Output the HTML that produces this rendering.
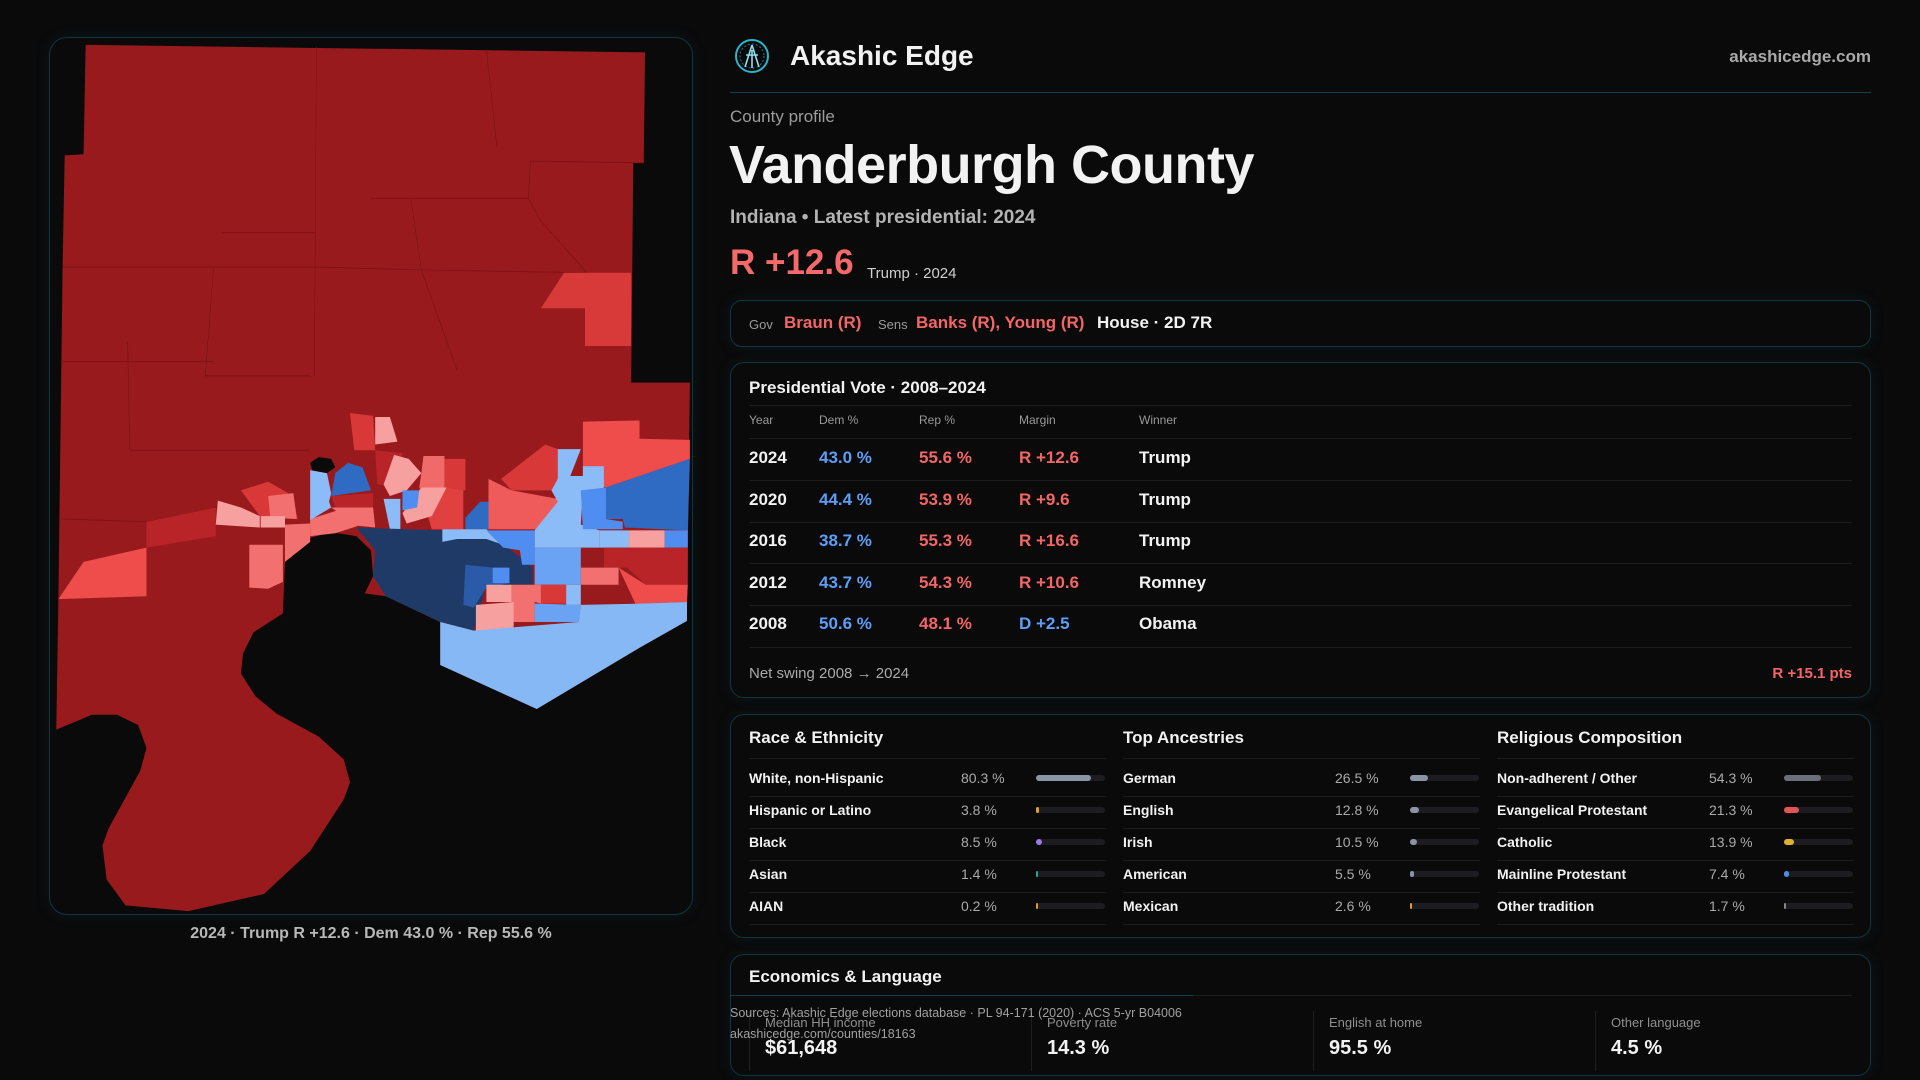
<!DOCTYPE html>
<html><head><meta charset="utf-8">
<style>
*{margin:0;padding:0;box-sizing:border-box}
body{width:1920px;height:1080px;background:#0a0a0b;font-family:"Liberation Sans",sans-serif;color:#f2f2f2;position:relative;overflow:hidden}
.a{position:absolute;white-space:nowrap}
.box{position:absolute;border:1px solid #0f3640;border-radius:14px;background:#0a0a0b;box-shadow:0 0 14px rgba(20,80,95,0.18)}
.red{color:#f46666}.blue{color:#5d9ef7}
.hl{position:absolute;height:1px;background:#1c1c1f}
.lbl{font-size:14px;font-weight:bold;color:#f2f2f2}
.val{font-size:14px;color:#aaa}
.trk{position:absolute;height:6px;border-radius:3px;background:#1d1d21}
.fil{position:absolute;left:0;top:0;height:6px;border-radius:3px}
</style></head><body>

<div class="box" style="left:49px;top:37px;width:644px;height:878px;border-radius:18px">
<svg width="642" height="876" viewBox="20 10 1530 1530" preserveAspectRatio="none" style="position:absolute;left:0;top:0">
<polygon fill="#981a1d" points="105,22 1438,35 1435,228 1410,228 1405,612 1545,612 1538,1028 1425,1075 1180,1182 950,1105 950,1030 820,985 770,980 790,950 785,905 750,880 690,873 630,885 580,925 575,1015 505,1048 480,1085 475,1120 510,1160 560,1190 660,1230 720,1270 735,1310 720,1340 640,1430 530,1505 350,1535 200,1525 155,1480 145,1420 160,1390 235,1290 250,1250 230,1210 180,1192 120,1192 35,1218 40,990 50,410 55,215 100,213"/>
<g fill="none" stroke="#7a1216" stroke-width="1.5">
<path d="M655,25 L650,600 M50,410 L650,410 M430,350 L650,350 M650,410 L900,415 L1300,420 M785,290 L1160,290 L1165,225 L1435,228 M1060,30 L1085,200 M880,290 L905,415 M50,575 L410,575 M205,540 L210,730 L640,730 M410,410 L390,600 L640,600 M905,415 L990,590 M1160,290 L1190,330 L1300,420 M50,850 L250,855 L420,830"/>
</g>
<polygon fill="#d83a3a" points="1245,420 1405,420 1405,548 1295,548 1295,482 1190,482"/>
<polygon fill="#ef4c4c" points="40,990 100,925 250,900 250,985"/>
<polygon fill="#b82428" points="250,855 415,830 415,880 250,900"/>
<polygon fill="#ef4c4c" points="1290,680 1425,678 1425,710 1545,712 1545,745 1345,795 1290,780 1290,728"/>
<polygon fill="#d83838" points="1095,780 1200,720 1230,728 1230,780 1215,800 1120,800"/>
<polygon fill="#ef5a5a" points="1065,780 1120,800 1230,815 1230,868 1065,868"/>
<polygon fill="#d83838" points="960,745 1010,745 1010,800 960,800"/>
<polygon fill="#d83838" points="735,665 790,670 795,730 745,730"/>
<polygon fill="#b82428" points="795,730 860,735 840,790 800,790"/>
<polygon fill="#e04040" points="900,795 960,795 1005,800 1005,868 930,868"/>
<polygon fill="#f06a6a" points="910,740 960,740 960,800 900,795 905,770"/>
<polygon fill="#f7a0a0" points="795,672 830,672 848,715 795,720"/>
<polygon fill="#f7a0a0" points="840,738 875,745 905,770 870,800 830,810 815,790"/>
<polygon fill="#f7a0a0" points="905,795 965,795 930,845 870,858 860,840"/>
<polygon fill="#f7a0a0" points="420,818 475,830 520,845 520,865 415,860"/>
<polygon fill="#d83838" points="475,800 540,785 600,810 610,850 520,845"/>
<polygon fill="#f27070" points="540,810 600,805 608,850 545,848"/>
<polygon fill="#f7a0a0" points="522,845 580,845 580,865 522,865"/>
<polygon fill="#f27070" points="580,860 640,858 640,890 580,925"/>
<polygon fill="#f27070" points="640,850 705,835 755,862 700,875 640,880"/>
<polygon fill="#f27070" points="690,830 790,830 795,865 755,862"/>
<polygon fill="#f27070" points="495,895 575,895 575,960 540,972 495,970"/>
<polygon fill="#b82428" points="690,810 790,805 790,830 700,830"/>
<polygon fill="#8bbcf7" points="640,765 680,770 690,805 685,820 690,830 640,852"/>
<polygon fill="#2f6bc3" points="700,770 730,752 765,760 785,800 690,810"/>
<polygon fill="#8bbcf7" points="815,815 855,815 855,868 830,868"/>
<polygon fill="#4f8ef0" points="860,800 900,800 895,830 860,835"/>
<polygon fill="#8bbcf7" points="1230,728 1285,728 1260,775 1290,775 1290,758 1340,758 1340,800 1290,800 1285,860 1330,870 1330,900 1175,900 1175,870 1230,820 1215,800 1230,780"/>
<polygon fill="#4f8ef0" points="1285,800 1345,795 1345,850 1385,855 1385,868 1290,868"/>
<polygon fill="#2f6bc3" points="1345,795 1545,745 1540,870 1390,865 1385,850 1345,850"/>
<polygon fill="#8bbcf7" points="1330,870 1400,870 1400,900 1330,900"/>
<polygon fill="#f7a0a0" points="1400,870 1485,870 1485,900 1400,900"/>
<polygon fill="#4f8ef0" points="1485,870 1540,870 1540,900 1485,900"/>
<polygon fill="#b82428" points="1340,900 1540,900 1540,965 1440,965 1395,935 1340,935"/>
<polygon fill="#f27070" points="1285,935 1375,935 1375,965 1285,965"/>
<polygon fill="#ef4c4c" points="1375,935 1440,965 1540,965 1538,995 1415,998"/>
<polygon fill="#6aa3f4" points="1175,900 1285,900 1285,965 1175,965"/>
<polygon fill="#2f6bc3" points="1010,848 1045,820 1065,820 1065,868 1010,868"/>
<polygon fill="#1f3a66" points="750,865 960,870 1060,870 1120,905 1170,935 1170,965 1060,965 1030,1045 950,1030 820,985 790,950 795,905"/>
<polygon fill="#8bbcf7" points="955,868 1060,868 1120,900 1060,885 990,885 955,890"/>
<polygon fill="#4f8ef0" points="1060,870 1175,870 1175,930 1145,930 1140,905 1100,900"/>
<polygon fill="#2a5aa8" points="1010,930 1075,935 1115,962 1060,970 1030,1005 1005,1000"/>
<polygon fill="#4f8ef0" points="1075,935 1115,935 1115,962 1075,962"/>
<polygon fill="#f7a0a0" points="1060,965 1120,965 1120,995 1060,995"/>
<polygon fill="#f27070" points="1120,965 1190,965 1190,998 1175,995 1175,1030 1125,1030 1120,995"/>
<polygon fill="#d83838" points="1190,965 1250,965 1250,998 1190,998"/>
<polygon fill="#8bbcf7" points="1250,965 1285,965 1285,1000 1250,1000"/>
<polygon fill="#f7a0a0" points="1035,1000 1125,995 1125,1040 1035,1048"/>
<polygon fill="#6aa3f4" points="1175,998 1285,1000 1280,1030 1175,1030"/>
<polygon fill="#85b8f5" points="950,1030 1030,1045 1280,1030 1285,1000 1420,998 1538,995 1538,1028 1425,1075 1180,1182 950,1105"/>
<polygon fill="#0a0a0b" points="640,752 660,742 690,745 700,760 680,770 645,765"/>
</svg>
</div>
<div class="a" style="left:0;width:742px;text-align:center;top:925px;font-size:16px;font-weight:bold;color:#b8b8b8">2024 · Trump R +12.6 · Dem 43.0 % · Rep 55.6 %</div>

<svg class="a" style="left:734px;top:38px" width="36" height="36" viewBox="0 0 36 36"><circle cx="18" cy="18" r="16" fill="none" stroke="#2bb3c8" stroke-width="2"/><circle cx="18" cy="18" r="12" fill="none" stroke="#1e7f90" stroke-width="1" stroke-dasharray="2 2"/><path d="M18,7 L11,29 M18,7 L25,29 M12,17 L24,17 M18,12 L18,30" stroke="#8fe0ec" stroke-width="1.6" fill="none"/></svg>
<div class="a" style="left:790px;top:40px;font-size:28px;font-weight:bold">Akashic Edge</div>
<div class="a" style="right:49px;top:47px;font-size:17px;font-weight:bold;color:#a9a9a9">akashicedge.com</div>
<div class="a" style="left:730px;top:92px;width:1141px;height:1px;background:#13414b"></div>

<div class="a" style="left:730px;top:107px;font-size:17px;color:#9c9c9c">County profile</div>
<div class="a" style="left:729px;top:134px;font-size:54px;font-weight:bold;letter-spacing:-0.5px">Vanderburgh County</div>
<div class="a" style="left:730px;top:207px;font-size:19px;font-weight:bold;color:#b3b3b3">Indiana • Latest presidential: 2024</div>
<div class="a red" style="left:730px;top:243px;font-size:35px;font-weight:bold;color:#f46a6a">R +12.6</div>
<div class="a" style="left:867px;top:265px;font-size:15px;color:#cfcfcf">Trump · 2024</div>

<div class="box" style="left:730px;top:300px;width:1141px;height:47px;border-radius:12px">
<span class="a" style="left:18px;top:16px;font-size:13px;color:#9a9a9a">Gov</span>
<span class="a red" style="left:53px;top:12px;font-size:17px;font-weight:bold">Braun (R)</span>
<span class="a" style="left:147px;top:16px;font-size:13px;color:#9a9a9a">Sens</span>
<span class="a red" style="left:185px;top:12px;font-size:17px;font-weight:bold">Banks (R), Young (R)</span>
<span class="a" style="left:366px;top:12px;font-size:17px;font-weight:bold">House · 2D 7R</span>
</div>

<div class="box" style="left:730px;top:362px;width:1141px;height:336px">
<div class="a" style="left:18px;top:15px;font-size:17px;font-weight:bold">Presidential Vote · 2008–2024</div>
<div class="hl" style="left:18px;right:18px;top:42px"></div>
<div id="ptable"></div>
<div class="a" style="left:18px;top:302px;font-size:15px;color:#aaa">Net swing 2008 → 2024</div>
<div class="a red" style="right:18px;top:302px;font-size:15px;font-weight:bold">R +15.1 pts</div>
</div>

<div class="box" style="left:730px;top:714px;width:1141px;height:224px">
<div id="demo"></div>
</div>

<div class="box" style="left:730px;top:954px;width:1141px;height:122px">
<div class="a" style="left:18px;top:12px;font-size:17px;font-weight:bold">Economics &amp; Language</div>
<div class="hl" style="left:18px;right:18px;top:40px"></div>
<div id="econ"></div>
</div>
<div class="a" style="left:730px;top:995px;width:463px;height:1px;background:#13414b"></div>
<div class="a" style="left:730px;top:1006px;font-size:12.5px;color:#a0a0a0">Sources: Akashic Edge elections database · PL 94-171 (2020) · ACS 5-yr B04006</div>
<div class="a" style="left:730px;top:1027px;font-size:12.5px;color:#a0a0a0">akashicedge.com/counties/18163</div>

<script>
const years=['2024','2020','2016','2012','2008'];
const demPct=[43.0,44.4,38.7,43.7,50.6];
const repPct=[55.6,53.9,55.3,54.3,48.1];
const margins=[12.6,9.6,16.6,10.6,-2.5];
const winners=['Trump','Trump','Trump','Romney','Obama'];
const raceLabels=['White, non-Hispanic','Hispanic or Latino','Black','Asian','AIAN'];
const raceValues=[80.3,3.8,8.5,1.4,0.2];
const ancLabels=['German','English','Irish','American','Mexican'];
const ancValues=[26.5,12.8,10.5,5.5,2.6];
const relLabels=['Non-adherent / Other','Evangelical Protestant','Catholic','Mainline Protestant','Other tradition'];
const relValues=[54.3,21.3,13.9,7.4,1.7];
const econLabels=['Median HH income','Poverty rate','English at home','Other language'];
const econValues=['$61,648','14.3 %','95.5 %','4.5 %'];

const pt=document.getElementById('ptable');
const cols=[18,88,188,288,408];
const heads=['Year','Dem %','Rep %','Margin','Winner'];
heads.forEach((h,i)=>{const d=document.createElement('div');d.className='a';d.style.cssText=`left:${cols[i]}px;top:50px;font-size:12px;color:#999`;d.textContent=h;


pt.appendChild(d);});
[75,117,159,200,242,284].forEach(y=>{const l=document.createElement('div');l.className='hl';l.style.cssText=`left:18px;right:18px;top:${y}px`;pt.appendChild(l);});
years.forEach((y,i)=>{
  const top=85+i*41.6;
  const m=margins[i];
  const mt=(m>=0?'R +':'D +')+Math.abs(m).toFixed(1);
  const vals=[[y,'#f2f2f2'],[demPct[i].toFixed(1)+' %','#5d9ef7'],[repPct[i].toFixed(1)+' %','#f46666'],[mt,m>=0?'#f46666':'#5d9ef7'],[winners[i],'#f2f2f2']];
  vals.forEach((v,j)=>{const d=document.createElement('div');d.className='a';d.style.cssText=`left:${cols[j]}px;top:${top}px;font-size:17px;font-weight:bold;color:${v[1]}`;d.textContent=v[0];
  
  
  pt.appendChild(d);});
});

const demo=document.getElementById('demo');
const groups=[['Race & Ethnicity',raceLabels,raceValues,['#8a94a6','#e09a2a','#9a7ae8','#2aa88a','#e09a2a']],
['Top Ancestries',ancLabels,ancValues,['#8a94a6','#8a94a6','#8a94a6','#8a94a6','#e09a2a']],
['Religious Composition',relLabels,relValues,['#6b6f7a','#e05555','#e0b030','#4a8ee8','#888']]];
groups.forEach((g,gi)=>{
  const x0=18+gi*374;
  const t=document.createElement('div');t.className='a';t.style.cssText=`left:${x0}px;top:13px;font-size:17px;font-weight:bold`;t.textContent=g[0];
  
  
  demo.appendChild(t);
  const l0=document.createElement('div');l0.className='hl';l0.style.cssText=`left:${x0}px;width:357px;top:43px`;demo.appendChild(l0);
  g[1].forEach((lab,i)=>{
    const top=55+i*32;
    const a=document.createElement('div');a.className='a lbl';a.style.cssText=`left:${x0}px;top:${top}px`;a.textContent=lab;
    
    
    demo.appendChild(a);
    const v=document.createElement('div');v.className='a val';v.style.cssText=`left:${x0+212}px;top:${top}px`;v.textContent=g[2][i].toFixed(1)+' %';
    
    
    demo.appendChild(v);
    const tr=document.createElement('div');tr.className='trk';tr.style.cssText=`left:${x0+287}px;top:${top+5}px;width:69px`;
    
    
    const f=document.createElement('div');f.className='fil';f.style.width=Math.max(2,69*g[2][i]/100)+'px';f.style.background=g[3][i];
    tr.appendChild(f);demo.appendChild(tr);
    const ln=document.createElement('div');ln.className='hl';ln.style.cssText=`left:${x0}px;width:357px;top:${top+26}px`;demo.appendChild(ln);
  });
});

const ec=document.getElementById('econ');
econLabels.forEach((lab,i)=>{
  const x0=34+i*282;
  const a=document.createElement('div');a.className='a';a.style.cssText=`left:${x0}px;top:60px;font-size:13px;color:#8f8f8f`;a.textContent=lab;
  
  
  ec.appendChild(a);
  const v=document.createElement('div');v.className='a';v.style.cssText=`left:${x0}px;top:82px;font-size:20px;font-weight:bold`;v.textContent=econValues[i];
  
  
  ec.appendChild(v);
  const dv=document.createElement('div');dv.className='a';dv.style.cssText=`left:${x0-16}px;top:56px;width:1px;height:60px;background:#1f1f23`;ec.appendChild(dv);
});
</script>
</body></html>
